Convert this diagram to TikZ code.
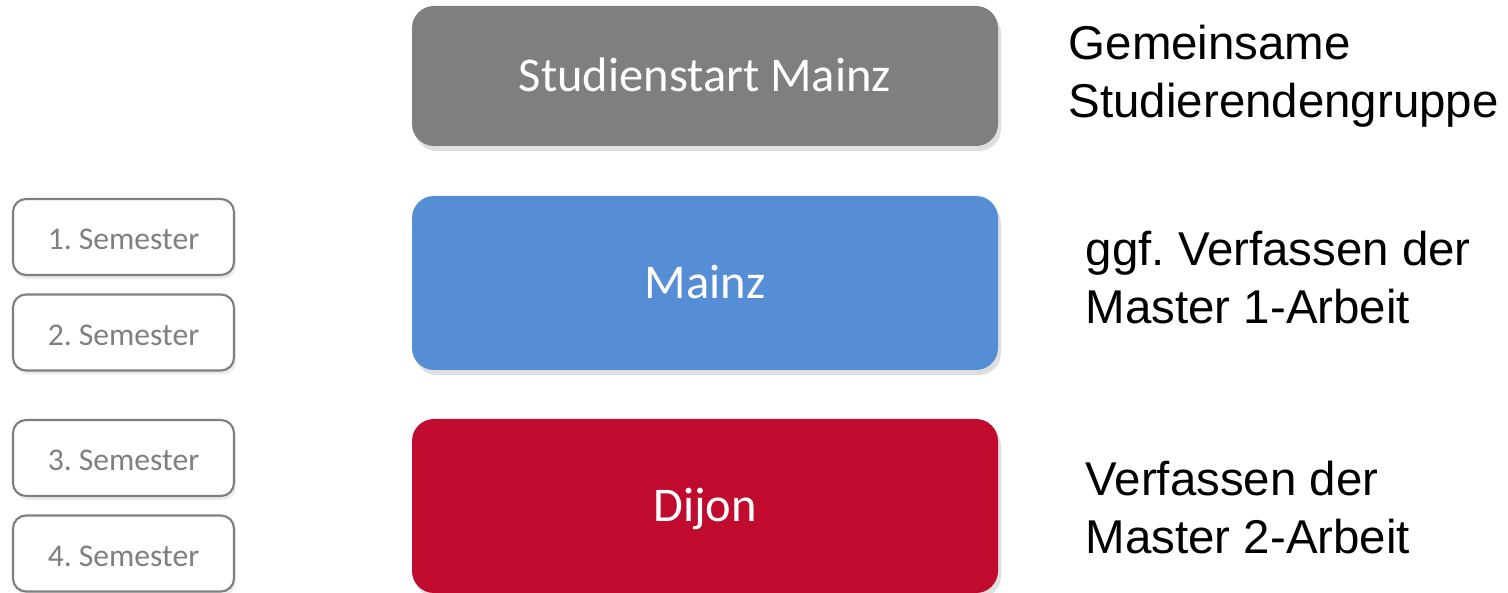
\documentclass[tikz,border=0pt]{standalone}
\usepackage{fontspec}
\setmainfont{Liberation Sans}
\newfontfamily\boxfont{Carlito}
\usepackage{tikz}
\usetikzlibrary{shadows}
\usepackage{xcolor}
\definecolor{ColGray}{RGB}{127,127,127}
\definecolor{ColBlue}{RGB}{85,142,213}
\definecolor{ColRed}{RGB}{192,10,46}
\tikzstyle{PlaceBox}=[rounded corners=0.22cm,minimum width=5.86cm,text=white,
font=\boxfont\fontsize{13.8}{16}\selectfont,text height=0.42cm,text depth=0.10cm,
drop shadow={opacity=0.25,shadow xshift=0.03cm,shadow yshift=-0.05cm}]
\tikzstyle{SemBox}=[rounded corners=0.13cm,draw=ColGray,line width=0.6pt,fill=white,
minimum width=2.21cm,minimum height=0.76cm,text=ColGray,
font=\boxfont\fontsize{9}{11}\selectfont,text height=0.32cm,text depth=0.06cm,
drop shadow={opacity=0.15,shadow xshift=0.02cm,shadow yshift=-0.04cm}]
\tikzstyle{Note}=[anchor=west,align=left,inner sep=0pt,
font=\fontsize{13.5}{16.5}\selectfont]

\begin{document}
\frenchspacing
\begin{tikzpicture}
        \useasboundingbox (0,0) rectangle (15.08,-5.93);
        \node[PlaceBox,fill=ColGray,minimum height=1.40cm](start)at(7.05,-0.76){Studienstart Mainz};
        \node[PlaceBox,fill=ColBlue,minimum height=1.74cm](mainz)at(7.05,-2.83){Mainz};
        \node[PlaceBox,fill=ColRed,minimum height=1.74cm](dijon)at(7.05,-5.06){Dijon};
        \node[SemBox](s1)at(1.235,-2.37){1. Semester};
        \node[SemBox](s2)at(1.235,-3.325){2. Semester};
        \node[SemBox](s3)at(1.235,-4.58){3. Semester};
        \node[SemBox](s4)at(1.235,-5.535){4. Semester};
        \node[Note](gruppe)at(10.68,-0.76){Gemeinsame\\Studierendengruppe};
        \node[Note](arbeit1)at(10.85,-2.78){ggf. Verfassen der\\Master 1-Arbeit};
        \node[Note](arbeit2)at(10.85,-5.08){Verfassen der\\Master 2-Arbeit};
    \end{tikzpicture}
\end{document}
